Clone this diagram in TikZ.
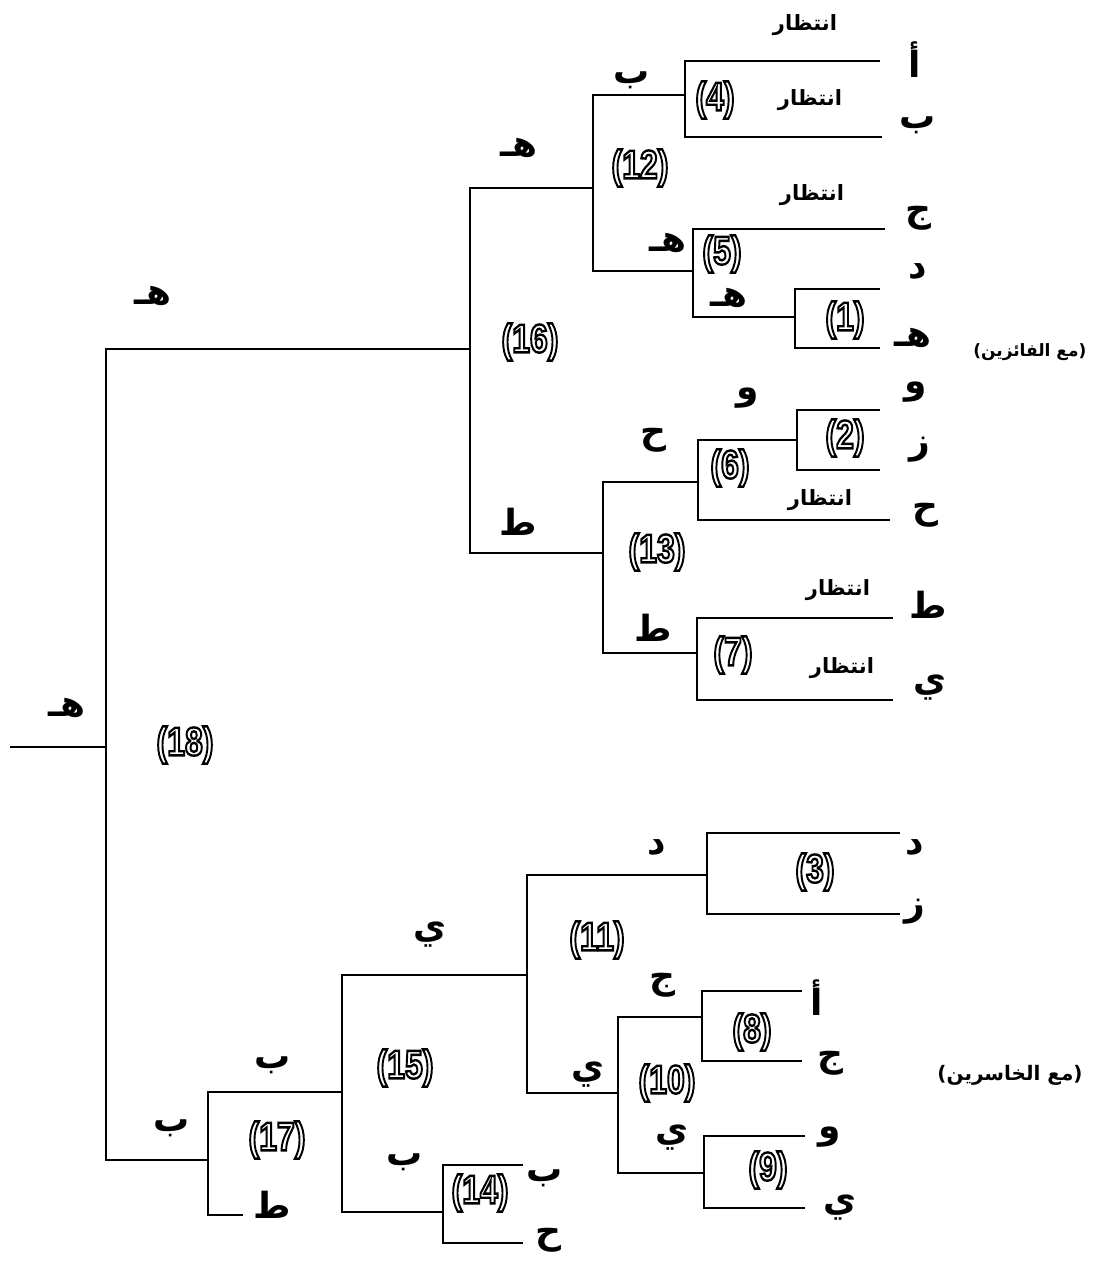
\documentclass[tikz,border=0pt]{standalone}
\usepackage{fontspec}
\usepackage{graphicx}
\usepackage{tikz}
\TeXXeTstate=1
\newfontfamily\arfont[Script=Arabic]{DejaVu Sans}
\newfontfamily\numfont{Liberation Sans}
\newcommand{\matchno}[1]{\scalebox{0.8}[1]{\numfont\bfseries\special{pdf:literal direct 1 Tr 1.2 w}(#1)\special{pdf:literal direct 0 Tr 1 w}}}

\tikzset{
  lett/.style={font=\arfont\bfseries\fontsize{18}{18}\selectfont, inner sep=0.75pt},
  waitlab/.style={font=\arfont\bfseries\fontsize{10.5}{10.5}\selectfont, inner sep=0.75pt},
  grouplab/.style={font=\arfont\bfseries\fontsize{10}{10}\selectfont, inner sep=0.75pt},
  numlab/.style={font=\fontsize{20}{20}\selectfont, inner sep=0.75pt}
}

\begin{document}
\begin{tikzpicture}[x=0.5pt,y=0.5pt,yscale=-1,xscale=1,line width=1.1pt]
\useasboundingbox (0,0) rectangle (1095,1263);

%Match points (winners)
\coordinate (m1) at (795,317);
\coordinate (m2) at (797,440);
\coordinate (m4) at (685,95);
\coordinate (m5) at (693,271);
\coordinate (m6) at (698,482);
\coordinate (m7) at (697,653);
\coordinate (m12) at (593,188);
\coordinate (m13) at (603,553);
\coordinate (m16) at (470,349);
%Match points (losers)
\coordinate (m3) at (707,875);
\coordinate (m8) at (702,1017);
\coordinate (m9) at (704,1173);
\coordinate (m10) at (618,1093);
\coordinate (m11) at (527,975);
\coordinate (m14) at (443,1212);
\coordinate (m15) at (342,1092);
\coordinate (m17) at (208,1160);
\coordinate (m18) at (106,747);
\coordinate (champ) at (10,747);

%Player slots (winners)
\coordinate (wa) at (880,61);
\coordinate (wb) at (882,137);
\coordinate (wc) at (885,229);
\coordinate (wd) at (880,289);
\coordinate (we) at (880,348);
\coordinate (wf) at (880,410);
\coordinate (wg) at (880,470);
\coordinate (wh) at (890,520);
\coordinate (wi) at (893,618);
\coordinate (wj) at (893,700);
%Player slots (losers)
\coordinate (ld) at (900,833);
\coordinate (lg) at (900,914);
\coordinate (la) at (802,991);
\coordinate (lc) at (802,1061);
\coordinate (lf) at (805,1136);
\coordinate (lj) at (805,1208);
\coordinate (lb) at (523,1165);
\coordinate (lh) at (523,1243);
\coordinate (li) at (243,1215);

%Straight Lines (winners bracket)
\draw (wa) -| (m4) |- (wb);
\draw (wd) -| (m1) |- (we);
\draw (wc) -| (m5) |- (m1);
\draw (m4) -| (m12) |- (m5);
\draw (wf) -| (m2) |- (wg);
\draw (m2) -| (m6) |- (wh);
\draw (wi) -| (m7) |- (wj);
\draw (m6) -| (m13) |- (m7);
\draw (m12) -| (m16) |- (m13);
%Straight Lines (losers bracket)
\draw (ld) -| (m3) |- (lg);
\draw (la) -| (m8) |- (lc);
\draw (lf) -| (m9) |- (lj);
\draw (m8) -| (m10) |- (m9);
\draw (m3) -| (m11) |- (m10);
\draw (lb) -| (m14) |- (lh);
\draw (m11) -| (m15) |- (m14);
\draw (m15) -| (m17) |- (li);
\draw (m16) -| (m18) |- (m17);
\draw (champ) -- (m18);

% Text Node: players (winners)
\node (na) at (915,60) [lett] {أ};
\node (nb) at (918,125) [lett] {ب};
\node (nc) at (918,218) [lett] {ج};
\node (nd) at (918,272) [lett] {د};
\node (ne) at (913,338) [lett] {هـ};
\node (nf) at (916,392) [lett] {و};
\node (ng) at (920,450) [lett] {ز};
\node (nh) at (925,515) [lett] {ح};
\node (ni) at (928,605) [lett] {ط};
\node (nj) at (930,688) [lett] {ي};
\node (winners) at (1089,352) [grouplab, anchor=east, font=\arfont\bfseries\fontsize{8.5}{8.5}\selectfont] {\beginR(مع الفائزين)\endR};

% Text Node: players (losers)
\node (xd) at (915,848) [lett] {د};
\node (xg) at (915,912) [lett] {ز};
\node (xa) at (817,998) [lett] {أ};
\node (xc) at (830,1063) [lett] {ج};
\node (xf) at (830,1137) [lett] {و};
\node (xj) at (840,1208) [lett] {ي};
\node (xb) at (545,1178) [lett] {ب};
\node (xh) at (548,1240) [lett] {ح};
\node (xi) at (272,1205) [lett] {ط};
\node (losers) at (1010,1075) [grouplab] {\beginR(مع الخاسرين)\endR};

% Text Node: match winners
\node (r4) at (632,80) [lett] {ب};
\node (r12) at (519,148) [lett] {هـ};
\node (r5) at (668,243) [lett] {هـ};
\node (r1) at (729,298) [lett] {هـ};
\node (r16) at (153,296) [lett] {هـ};
\node (r2) at (748,398) [lett] {و};
\node (r6) at (653,440) [lett] {ح};
\node (r13) at (518,522) [lett] {ط};
\node (r7) at (653,628) [lett] {ط};
\node (r18) at (67,708) [lett] {هـ};
\node (r3) at (657,848) [lett] {د};
\node (r11) at (430,935) [lett] {ي};
\node (r8) at (662,985) [lett] {ج};
\node (r10) at (588,1075) [lett] {ي};
\node (r9) at (672,1138) [lett] {ي};
\node (r15) at (273,1065) [lett] {ب};
\node (r17) at (172,1128) [lett] {ب};
\node (r14) at (405,1162) [lett] {ب};

% Text Node: waiting
\node (w1) at (805,25) [waitlab] {انتظار};
\node (w2) at (810,100) [waitlab] {انتظار};
\node (w3) at (812,195) [waitlab] {انتظار};
\node (w4) at (820,500) [waitlab] {انتظار};
\node (w5) at (838,590) [waitlab] {انتظار};
\node (w6) at (842,668) [waitlab] {انتظار};

% Text Node: match numbers
\node (k1) at (845,320) [numlab] {\matchno{1}};
\node (k2) at (845,438) [numlab] {\matchno{2}};
\node (k3) at (815,872) [numlab] {\matchno{3}};
\node (k4) at (715,100) [numlab] {\matchno{4}};
\node (k5) at (722,254) [numlab] {\matchno{5}};
\node (k6) at (730,468) [numlab] {\matchno{6}};
\node (k7) at (733,655) [numlab] {\matchno{7}};
\node (k8) at (752,1032) [numlab] {\matchno{8}};
\node (k9) at (768,1170) [numlab] {\matchno{9}};
\node (k10) at (667,1083) [numlab] {\matchno{10}};
\node (k11) at (597,940) [numlab] {\matchno{11}};
\node (k12) at (640,168) [numlab] {\matchno{12}};
\node (k13) at (657,552) [numlab] {\matchno{13}};
\node (k14) at (480,1193) [numlab] {\matchno{14}};
\node (k15) at (405,1068) [numlab] {\matchno{15}};
\node (k16) at (530,342) [numlab] {\matchno{16}};
\node (k17) at (277,1140) [numlab] {\matchno{17}};
\node (k18) at (185,745) [numlab] {\matchno{18}};

\end{tikzpicture}
\end{document}
